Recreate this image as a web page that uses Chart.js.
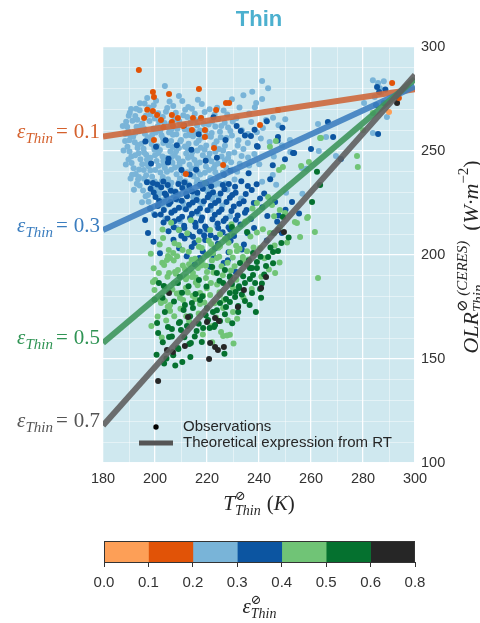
<!DOCTYPE html>
<html>
<head>
<meta charset="utf-8">
<script src="https://cdn.jsdelivr.net/npm/chart.js@4"></script>
<style>
  body { margin: 0; background: #fff; }
  #wrap { position: relative; width: 480px; height: 623px; }
  #chart { position: absolute; left: 0; top: 0; }
  #cbar { position: absolute; left: 0; top: 530px; }
</style>
</head>
<body>
<div id="wrap">
  <canvas id="chart" width="480" height="530"></canvas>
  <canvas id="cbar" width="480" height="93"></canvas>
</div>
<script>
//-------------------- DATA BLOCK --------------------
// observations, [T (K), OLR (W m-2)], grouped by emissivity bin
const lightOrange = [[290.0,268.8]];

const darkOrange = [
  [193.8,288.9],[199.2,278.4],[199.6,276.0],[205.4,277.4],[216.9,279.8],[223.5,269.7],[227.3,273.1],[228.5,273.1],
  [195.8,265.9],[199.2,269.2],[200.8,267.3],[202.3,264.9],[206.5,267.3],[206.5,263.9],[206.9,262.0],[208.8,265.9],
  [214.6,265.9],[217.7,265.9],[210.8,262.0],[199.6,255.3],[214.2,260.1],[219.2,256.7],[219.2,260.1],[222.7,251.4],
  [211.9,238.9],[226.2,243.3],[240.4,262.5],[247.3,269.7],[291.2,282.7],[293.8,275.5],[197.0,269.8],[203.2,261.4]
];

const lightBlue = [
  [203.8,281.3],[209.2,276.4],[194.2,273.0],[197.0,275.5],[190.3,268.4],[199.5,272.0],[205.6,273.8],[212.8,271.2],
  [216.5,274.6],[221.0,270.1],[234.0,276.8],[241.2,283.6],[243.5,280.2],[226.4,269.5],[231.3,265.8],[236.2,268.0],
  [247.5,262.4],[250.1,265.3],[187.6,262.0],[238.9,273.1],[241.2,275.0],[242.7,264.9],[245.4,266.0],[262.7,263.0],
  [265.8,256.7],[263.0,250.0],[251.9,255.3],[235.8,258.2],[241.5,261.0],[239.2,259.0],
  [188.9,264.1],[192.4,266.8],[195.1,263.2],[198.3,267.5],[201.6,264.0],[204.2,268.9],[207.5,265.1],[210.9,267.2],
  [213.7,263.8],[217.8,266.0],[220.6,262.7],[224.3,265.4],[228.1,261.3],
  [189.7,259.4],[192.9,261.6],[196.1,258.3],[199.4,260.8],[202.5,257.6],[205.3,261.1],[208.2,258.0],[211.4,260.5],
  [214.6,257.1],[217.3,259.9],[221.5,256.8],[225.0,259.2],[229.6,257.5],[233.4,260.0],
  [188.5,254.8],[191.6,256.9],[194.8,253.5],[197.7,255.8],[200.9,252.4],[203.6,255.1],[206.8,251.9],[209.7,254.6],
  [212.5,251.2],[215.9,253.8],[219.1,250.6],[222.8,253.0],[226.2,250.2],[231.8,252.6],[244.1,254.3],
  [190.2,249.7],[193.3,251.5],[196.6,248.2],[199.8,250.6],[202.9,247.3],[205.9,249.8],[208.9,246.5],[212.0,248.8],
  [215.2,245.7],[218.4,248.0],[221.7,245.1],[225.6,247.4],[229.3,244.6],[235.8,246.9],[252.0,249.5],
  [191.0,244.2],[194.4,246.0],[197.5,242.7],[200.6,245.2],[203.8,241.8],[206.7,244.3],[210.1,241.1],[213.3,243.4],
  [216.4,240.2],[219.6,242.6],[223.2,239.8],[227.4,242.0],[240.1,243.6],[258.3,241.5],
  [192.6,239.0],[195.7,240.9],[198.9,237.6],[202.1,239.7],[205.0,236.4],[208.3,238.8],[211.6,235.5],[214.8,237.9],
  [217.9,234.7],[221.3,237.0],[224.8,234.2],[230.6,236.3],
  [194.1,233.4],[197.3,235.2],[200.4,231.9],[204.5,234.0],[207.8,230.7],[211.9,233.2],[215.1,229.8],[219.0,232.1],
  [222.6,229.0],[227.9,231.4],[246.6,233.8],
  [196.4,228.2],[200.1,229.9],[203.5,226.5],[207.2,228.6],[210.8,225.3],[214.7,227.8],[218.3,224.6],[222.0,226.9],
  [225.9,223.8],[233.1,227.2],
  [198.6,222.6],[202.8,224.0],[206.4,220.8],[211.1,222.7],[216.6,219.9],[221.4,221.8],[228.9,218.6],
  [204.0,217.4],[209.6,216.2],[215.8,215.0],[223.7,214.1],[208.3,213.0],[219.2,211.5],
  [190.8,270.2],[194.1,269.6],[197.6,270.9],[201.2,268.1],[204.7,270.7],[208.0,268.4],[211.6,269.8],[215.3,267.9],
  [219.1,268.8],[222.9,267.4],
  [191.3,264.6],[194.6,262.1],[197.9,264.4],[201.0,261.8],[203.7,263.5],[206.4,260.4],[209.8,262.9],[212.9,260.0],
  [216.2,262.3],[219.5,259.7],[223.2,261.8],[226.8,263.6],
  [190.5,257.4],[193.9,259.5],[197.2,256.6],[200.3,258.9],[203.1,256.0],[206.9,257.8],[210.0,255.3],[213.4,257.7],
  [216.8,255.0],[220.1,257.2],[223.7,254.7],[227.5,256.2],
  [189.4,252.0],[192.2,254.2],[195.6,251.1],[198.7,253.4],[201.9,250.5],[205.2,252.8],[208.1,249.9],[211.5,252.2],
  [214.3,249.4],[217.6,251.6],[221.0,248.8],[224.6,251.0],[228.4,248.5],
  [190.9,247.4],[193.7,248.9],[196.9,245.8],[200.0,248.0],[203.2,245.2],[206.5,247.1],[209.5,244.6],[212.7,246.8],
  [216.0,243.9],[219.8,246.2],[223.1,243.3],[226.9,245.6],
  [191.8,241.7],[195.1,243.6],[198.2,240.6],[201.4,242.9],[204.6,240.0],[207.7,242.1],[211.0,239.3],[214.1,241.6],
  [217.4,238.7],[220.8,240.9],[224.3,238.0],
  [193.5,236.4],[196.6,238.3],[199.9,235.3],[203.0,237.5],[206.3,234.7],[209.6,236.8],[212.9,233.9],[216.2,236.2],
  [219.7,233.4],[223.4,235.6],
  [195.4,231.0],[198.8,232.9],[202.0,229.8],[205.6,232.2],[209.0,229.2],[212.6,231.4],[216.1,228.6],[220.2,230.6],
  [224.5,227.7],
  [197.5,225.6],[201.4,227.2],[205.0,224.3],[208.9,226.5],[212.9,223.6],[217.2,225.7],[221.3,222.9],
  [189.9,266.9],[193.2,265.0],[196.5,267.0],[199.9,265.6],[203.0,266.4],[206.0,263.2],[209.3,264.4],[212.4,266.3],
  [215.6,264.9],[218.7,263.0],[222.0,264.2],[225.5,262.0],[229.9,264.2],
  [189.3,261.6],[192.5,258.8],[195.7,260.9],[198.9,257.7],[202.0,259.6],[205.4,258.9],[208.6,260.7],[211.9,257.4],
  [215.0,259.4],[218.1,256.5],[221.8,258.6],[225.3,256.6],[229.0,259.6],[232.1,255.2],
  [190.1,255.2],[193.4,252.9],[196.6,255.0],[199.7,252.1],[203.2,253.8],[206.2,254.8],[209.2,251.4],[212.9,253.5],
  [216.3,250.3],[219.7,252.7],[223.2,249.6],[226.9,252.5],[230.5,249.3],[234.0,251.0],
  [189.8,245.9],[192.4,248.0],[195.8,249.3],[198.2,246.7],[201.3,249.0],[204.5,246.6],[207.6,248.1],[210.7,245.0],
  [214.0,247.4],[217.2,244.5],[220.5,246.7],[224.2,244.0],[228.1,246.6],[232.6,243.9],
  [191.2,238.6],[193.9,241.1],[197.0,243.8],[200.1,240.9],[203.4,243.3],[206.2,241.0],[209.4,243.0],[212.4,239.8],
  [215.9,242.3],[219.2,239.5],[222.6,241.7],[226.1,239.5],[230.0,241.0],
  [193.0,234.2],[195.8,236.7],[199.0,233.0],[202.6,235.6],[205.9,232.7],[209.2,235.0],[212.5,231.9],[216.0,234.4],
  [219.5,231.6],[223.1,233.8],[227.0,234.4],
  [192.8,270.3],[196.0,272.8],[200.4,274.2],[207.0,271.6],[210.5,274.0],[214.2,270.3],[218.0,272.6],[223.9,270.8],
  [227.8,267.5],[232.5,270.9],[237.0,264.0],[238.4,271.0],
  [188.6,258.2],[187.9,250.3],[188.8,243.5],[190.6,236.8],[233.3,247.6],[236.2,243.0],[235.7,253.8],[238.2,248.6],
  [240.7,256.0],[231.6,240.0],[193.8,237.5],[197.3,228.8],[191.9,231.4],[195.0,225.4],[199.6,219.8],[245.7,247.3],
  [248.9,252.6],[237.4,278.5],[229.6,274.9],
  [256.5,241.8],[269.6,247.6],[256.7,229.5],[250.4,229.9],[241.2,235.2],[245.3,238.5],
  [283.8,284.0],[285.8,282.7],[286.9,277.9],[286.5,280.2],[289.2,266.3],[283.8,258.6],[280.4,273.1],[284.5,276.0],[288.0,283.5]
];

const darkBlue = [
  [211.2,262.4],[216.8,258.1],[222.5,266.2],[227.1,255.3],[231.4,262.0],[234.6,257.4],[238.3,260.2],[200.4,252.1],
  [205.2,246.3],[196.3,254.6],[243.0,264.3],[247.2,255.0],[249.0,261.2],[253.1,249.0],[239.5,252.0],[266.5,264.0],
  [268.5,256.7],[260.0,251.0],[250.0,246.0],[245.3,243.1],[271.5,246.2],[285.4,280.8],[286.2,278.4],[285.0,272.1],
  [285.8,258.2],[288.6,279.6],[204.1,255.2],[214.0,250.6],[219.5,245.3],[210.2,240.9],[233.0,259.6],[236.9,257.2],
  [247.3,256.7],[239.2,252.4],[253.5,249.0],[205.0,244.5],[215.8,241.0],[223.8,246.8],[229.0,240.5],[208.4,252.8],
  [198.5,244.0],[236.0,239.3],[226.5,238.6],[213.4,238.7],
  [196.9,235.0],[199.2,234.6],[196.2,216.8],[200.0,219.2],[198.1,222.4],
  [203.2,235.3],[211.3,234.9],[219.6,234.5],[228.4,234.1],[233.2,235.5],[239.1,234.0],[244.3,236.4],
  [198.3,231.8],[202.4,232.6],[206.1,230.9],[210.5,232.2],[214.3,230.5],[218.4,231.9],[222.3,230.2],[226.7,231.6],
  [231.0,229.9],[237.2,231.3],[242.0,229.6],
  [200.2,227.9],[204.3,228.7],[208.1,226.8],[212.3,228.3],[216.0,226.4],[220.3,227.8],[224.4,226.1],[228.8,227.5],
  [234.1,225.8],[240.4,227.2],[246.2,225.5],
  [201.1,223.6],[205.4,224.5],[209.2,222.7],[213.1,224.1],[217.3,222.3],[221.5,223.7],[225.6,221.9],[230.3,223.3],
  [235.2,221.6],[241.3,223.0],[250.2,221.8],
  [202.2,219.5],[206.3,220.3],[210.4,218.4],[214.2,219.8],[218.1,218.0],[223.0,219.4],[227.2,217.6],[231.8,219.0],
  [236.9,217.3],[243.2,218.7],[255.4,220.0],
  [203.3,215.6],[207.4,216.2],[211.2,214.1],[215.4,215.5],[219.3,213.7],[224.1,215.1],[228.3,213.3],[232.9,214.7],
  [238.1,213.0],[247.0,216.0],
  [205.2,211.4],[209.3,212.0],[213.1,209.9],[217.2,211.3],[221.4,209.5],[226.0,210.9],[230.4,209.1],[235.6,210.5],[248.8,210.6],
  [207.1,207.3],[211.4,207.9],[215.2,205.8],[219.3,207.2],[224.2,205.4],[229.1,206.8],[234.2,205.0],[243.0,207.0],
  [209.3,203.2],[214.1,203.8],[218.4,201.7],[223.1,203.1],[228.3,201.3],[233.4,202.6],
  [212.2,199.4],[217.1,198.5],[222.3,199.8],[228.0,197.5],[215.3,195.6],[221.2,194.4],[226.4,196.1],[231.0,192.0],
  [252.7,225.5],[247.6,219.0],[197.3,210.6],[199.4,206.4],[201.9,200.8],
  [200.9,233.9],[204.9,233.6],[209.0,234.1],[213.2,233.3],[217.4,233.8],[221.6,233.0],[226.1,233.6],[230.8,232.8],[235.7,233.2],
  [199.5,230.1],[203.8,229.6],[207.9,230.3],[212.0,229.4],[216.3,229.9],[220.9,229.1],[225.2,229.6],[229.7,228.8],[234.9,229.3],
  [201.6,226.0],[206.0,225.5],[210.3,226.1],[214.5,225.2],[218.8,225.8],[223.1,225.0],[227.5,225.5],[232.4,224.6],[238.0,225.0],
  [203.4,221.6],[207.6,221.4],[211.9,222.0],[216.1,220.9],[220.2,221.5],[224.6,220.7],[229.4,221.2],[234.6,220.3],
  [204.8,217.6],[209.2,217.3],[213.5,217.8],[217.7,216.6],[222.1,217.2],[226.4,216.4],[231.1,216.9],
  [207.2,213.4],[211.3,213.0],[215.6,213.6],[219.9,212.5],[224.3,213.0],[228.9,212.2],
  [210.1,209.3],[214.6,208.8],[218.9,209.4],[223.4,208.3],[227.8,208.9]
];

const lightGreen = [
  [200.0,188.0],[205.0,199.5],[207.0,201.0],[208.5,199.4],[205.4,191.3],[207.7,191.8],[211.5,193.3],[214.6,191.3],
  [216.5,193.7],[218.0,196.6],[220.0,200.0],[222.3,201.0],[223.8,198.6],[220.0,191.8],[222.5,191.6],[214.2,189.4],
  [215.7,189.2],[212.2,189.5],[209.6,181.7],[208.4,181.5],[210.8,178.4],[217.3,181.7],[218.5,180.4],[221.2,180.8],
  [225.0,180.8],[230.0,184.1],[226.2,174.5],[230.0,172.6],[205.4,175.0],[205.8,173.1],[202.3,176.9],[203.8,177.9],
  [226.2,161.1],[228.8,161.6],[225.0,204.2],[228.8,201.4],[231.5,201.9],[233.8,199.0],[235.4,201.8],[235.4,195.6],
  [246.2,191.3],[262.7,189.0],[201.5,191.3],[199.2,187.0],[204.6,197.6],
  [254.6,215.4],[255.8,208.7],[261.5,211.0],[258.8,218.3],[248.0,213.5],[250.0,220.2],[245.8,218.6],[244.2,210.6],
  [241.5,212.4],[239.2,210.8],[240.4,203.4],[233.8,197.6],[232.7,191.5],[229.9,198.8],[227.9,196.3],[224.7,199.2],
  [220.8,200.3],[218.0,203.4],[208.8,192.8],[205.8,198.6],[200.1,187.8],[209.6,179.3],[205.8,176.0],[201.9,178.4],
  [204.9,175.1],[214.5,180.4],[217.3,176.4],[225.4,163.0],[227.7,161.3],[221.8,165.8],[221.5,186.5],
  [247.7,240.9],[249.2,242.3],[256.2,242.8],[259.2,244.7],[243.5,227.9],[245.0,224.0],[239.2,225.0],[258.5,217.8],
  [253.8,215.9],[248.0,221.6],[219.2,234.6],[209.2,212.0],[221.2,212.0],[225.0,210.0],
  [263.8,256.3],[278.0,242.3],[277.7,247.6],[283.8,268.3],[280.0,260.0],[246.5,254.8],[263.5,256.2],[244.2,252.0],
  [203.1,208.2],[207.5,205.6],[212.4,210.4],[216.8,207.1],[221.6,205.3],[226.9,207.8],[231.2,204.5],[236.7,208.9],
  [210.6,202.4],[215.4,198.2],[213.1,195.6],[219.6,194.8],[226.1,190.3],[231.3,188.1],[203.7,184.9],[207.2,186.4],
  [211.9,184.2],[216.4,185.5],[199.5,193.6],[202.8,196.3],[237.9,203.6],[242.1,198.4],[229.4,214.8],[234.7,216.1],
  [237.5,222.4],[213.8,216.7],[206.2,215.5],[202.9,212.3],
  [201.8,205.1],[205.3,202.4],[209.1,204.8],[213.0,201.6],[216.9,204.0],[220.7,206.9],[224.4,203.5],[228.3,205.9],
  [232.5,203.0],[203.5,195.2],[207.2,197.4],[210.7,194.9],[214.1,197.7],[217.8,195.0],[221.9,197.3],[225.6,194.6],
  [229.2,192.6],[204.8,189.6],[208.0,191.0],[211.9,188.3],[215.7,186.8],[219.6,188.9],[223.9,185.8],
  [206.7,183.4],[212.6,182.0],[219.9,184.0],[224.8,182.1],[207.4,170.5],[216.8,171.9],[223.5,170.0],[213.1,168.3],
  [198.4,200.6],[199.8,183.2],[201.0,170.4],[198.6,165.9],[202.6,160.3],[204.3,168.5],[209.8,174.2],[212.0,170.5],
  [215.5,178.8],[219.0,177.2],[222.9,176.8],[226.5,178.2],[228.0,168.6],[231.6,169.4],[234.0,179.6],[237.2,183.6],
  [240.9,189.5],[243.8,193.0],[247.9,196.4],[250.8,206.0],[246.0,204.6],[236.0,197.8],[230.6,194.6],[218.4,161.8],
  [222.0,158.0],[230.2,157.5]
];

const darkGreen = [
  [201.5,186.5],[208.8,186.5],[209.6,189.4],[203.8,172.6],[200.8,167.3],[201.2,162.5],[205.0,165.4],[206.5,164.4],
  [205.4,160.6],[209.6,167.8],[210.0,164.0],[212.3,165.9],[216.0,163.5],[218.5,164.9],[221.0,164.9],[222.7,165.4],
  [225.0,168.3],[211.0,173.6],[211.5,176.0],[214.2,176.9],[214.6,174.5],[217.3,178.4],[220.0,174.5],[222.3,172.6],
  [225.0,176.9],[227.3,178.8],[228.8,177.4],[230.8,179.8],[232.0,175.5],[234.6,177.9],[228.8,181.7],[231.0,182.2],
  [232.3,185.0],[234.6,186.5],[236.5,188.5],[237.7,190.4],[239.2,193.7],[242.7,194.7],[243.5,199.0],[247.3,201.9],
  [238.5,186.5],[240.4,183.6],[241.1,186.3],[237.3,181.7],[238.8,172.6],[232.0,172.6],[228.8,189.4],[226.2,186.5],
  [223.8,191.3],[222.0,194.2],[226.9,192.8],[232.7,196.2],[236.5,193.7],[237.7,201.0],[213.8,157.7],[208.8,155.3],
  [209.0,154.8],[213.2,157.2],
  [260.4,225.5],[245.4,201.4],[239.2,196.6],[245.4,196.0],[237.3,193.7],[232.3,184.1],[228.8,189.8],[218.2,180.2],
  [215.6,181.2],[203.4,185.1],[206.5,160.8],[209.2,167.3],[220.4,168.8],[223.1,166.4],[227.3,175.0],
  [262.3,240.0],[263.5,233.7],[249.2,218.3],[229.6,213.5],[235.4,211.0],[245.8,210.6],[288.0,273.1],
  [199.8,178.5],[202.9,179.5],[204.4,150.2],[200.6,152.0],[207.8,146.9],[203.5,147.8],
  [212.9,185.0],[216.9,188.0],[219.8,184.8],[224.8,187.6],[229.6,186.0],[233.9,189.8],[236.1,197.4],[240.6,199.2],
  [244.4,203.6],[248.6,205.8],[251.4,208.4],[207.3,177.6],[210.4,181.8],[213.5,170.6],[216.8,167.0],[219.5,171.0],
  [223.8,173.4],[226.9,171.5],[229.7,167.2],[233.4,181.0],[236.4,176.0],[240.8,179.5],[242.0,190.6],[203.0,158.0],
  [207.0,151.8],[211.3,160.5],[215.3,160.8],[218.0,158.2],[213.6,151.0],[210.5,148.6],[226.7,152.5],[229.2,186.9]
];

const black = [
  [205.4,181.7],[212.7,170.2],[220.0,167.8],[223.1,169.7],[224.6,168.3],[234.2,183.2],[242.7,189.4],[240.8,184.1],
  [204.6,154.3],[206.9,153.4],[211.5,156.3],[221.2,157.7],[223.1,155.8],[224.2,154.3],[226.5,155.8],[220.8,150.0],
  [231.9,175.0],[201.2,139.4],[249.6,211.1],[247.3,212.0],[293.1,273.1]
];

// theoretical expression from RT, OLR at T = 180 K and T = 300 K
const lineT = [180, 300];
const olrEps01 = [256.9, 279.7];
const olrEps03 = [212.0, 281.0];
const olrEps05 = [157.7, 284.6];
const olrEps07 = [118.0, 286.5];
const epsLabels = ['0.1', '0.3', '0.5', '0.7'];

// colour bar
const cbTicks = ['0.0', '0.1', '0.2', '0.3', '0.4', '0.5', '0.6', '0.8'];
const cbWidths = [1, 1, 1, 1, 1, 1, 1];
const cbColors = ['#fd9f57', '#e15307', '#79b4d8', '#0c55a1', '#70c476', '#05712f', '#262626'];

//-------------------- HELPERS --------------------
const SERIF = '"Liberation Serif", "DejaVu Serif", serif';
const SANS = '"Liberation Sans", Arial, sans-serif';
const bgColor = '#cfe8ef';
const lineColors = ['rgba(205,104,60,0.9)', 'rgba(62,128,192,0.9)', 'rgba(62,150,92,0.9)', 'rgba(95,95,95,0.9)'];
const labelColors = ['#d4602c', '#3a7dbf', '#2f9454', '#555555'];

const toXY = pts => pts.map(p => ({ x: p[0], y: p[1] }));
const lineXY = olr => lineT.map((t, i) => ({ x: t, y: olr[i] }));

// draw text made of pieces (normal, sub, sup); keep:true = next piece starts at same x
function richWidth(ctx, parts) {
  let w = 0, pend = 0;
  for (const p of parts) {
    ctx.font = p.f;
    const pw = ctx.measureText(p.t).width;
    if (p.keep) { pend = pw; } else { w += (p.pre || 0) + Math.max(pw, pend); pend = 0; }
  }
  return w;
}
function drawRich(ctx, parts, x, y) {
  let cx = x, pend = 0;
  for (const p of parts) {
    ctx.font = p.f;
    const pw = ctx.measureText(p.t).width;
    ctx.fillText(p.t, cx + (p.pre || 0), y + (p.dy || 0));
    if (p.keep) { pend = pw; } else { cx += (p.pre || 0) + Math.max(pw, pend); pend = 0; }
  }
}

//-------------------- MAIN CHART --------------------
const pointSets = [lightBlue, darkBlue, lightGreen, darkGreen, black, lightOrange, darkOrange];
const pointColors = [cbColors[2], cbColors[3], cbColors[4], cbColors[5], cbColors[6], cbColors[0], cbColors[1]];

const datasets = [];
[olrEps01, olrEps03, olrEps05, olrEps07].forEach((olr, i) => {
  datasets.push({
    type: 'line',
    data: lineXY(olr),
    borderColor: lineColors[i],
    borderWidth: 6,
    pointRadius: 0,
    borderCapStyle: 'butt',
    order: -1 - i
  });
});
pointSets.forEach((pts, i) => {
  datasets.push({
    type: 'scatter',
    data: toXY(pts),
    backgroundColor: pointColors[i],
    borderWidth: 0,
    pointRadius: 3,
    order: 10 - i
  });
});

const gridColor = c => (c.tick && c.tick.value % (c.scale.axis === 'x' ? 20 : 50) === 0)
  ? 'rgba(255,255,255,0.95)' : 'rgba(255,255,255,0.55)';
const gridWidth = c => (c.tick && c.tick.value % (c.scale.axis === 'x' ? 20 : 50) === 0) ? 1.3 : 0.8;

const decor = {
  id: 'decor',
  beforeDraw(chart) {
    const { ctx, chartArea: a } = chart;
    ctx.save();
    ctx.fillStyle = bgColor;
    ctx.fillRect(a.left, a.top, a.right - a.left, a.bottom - a.top);
    ctx.restore();
  },
  afterDraw(chart) {
    const { ctx, chartArea: a, scales } = chart;
    const cx = (a.left + a.right) / 2;
    ctx.save();
    ctx.textBaseline = 'alphabetic';
    ctx.textAlign = 'left';

    // title
    ctx.fillStyle = '#4cb0cf';
    ctx.font = 'bold 22px ' + SANS;
    ctx.textAlign = 'center';
    ctx.fillText('Thin', cx, 26);
    ctx.textAlign = 'left';

    // labels of the theoretical lines, at their left ends
    [olrEps01, olrEps03, olrEps05, olrEps07].forEach((olr, i) => {
      const parts = [
        { t: 'ε', f: 'italic 21px ' + SERIF },
        { t: 'Thin', f: 'italic 15px ' + SERIF, dy: 5 },
        { t: '=', f: '21px ' + SERIF, pre: 3 },
        { t: epsLabels[i], f: '21px ' + SERIF, pre: 6 }
      ];
      const y = scales.y.getPixelForValue(olr[0]) + 1.5;
      ctx.fillStyle = labelColors[i];
      drawRich(ctx, parts, a.left - 3 - richWidth(ctx, parts), y);
    });

    // x axis title
    ctx.fillStyle = '#262626';
    const xt = [
      { t: 'T', f: 'italic 21px ' + SERIF },
      { t: '⊘', f: '13px ' + SERIF, dy: -10, keep: true },
      { t: 'Thin', f: 'italic 14px ' + SERIF, dy: 5 },
      { t: '(', f: '21px ' + SERIF, pre: 6 },
      { t: 'K', f: 'italic 21px ' + SERIF },
      { t: ')', f: '21px ' + SERIF }
    ];
    drawRich(ctx, xt, cx - richWidth(ctx, xt) / 2, 510);

    // y axis title (right side, rotated)
    const yt = [
      { t: 'OLR', f: 'italic 22px ' + SERIF },
      { t: '⊘ (CERES)', f: 'italic 15px ' + SERIF, dy: -11, keep: true },
      { t: 'Thin', f: 'italic 15px ' + SERIF, dy: 5 },
      { t: '(', f: '22px ' + SERIF, pre: 10 },
      { t: 'W·m', f: 'italic 22px ' + SERIF },
      { t: '−2', f: '15px ' + SERIF, dy: -10 },
      { t: ')', f: '22px ' + SERIF }
    ];
    ctx.translate(478, (a.top + a.bottom) / 2 + 2);
    ctx.rotate(-Math.PI / 2);
    drawRich(ctx, yt, -richWidth(ctx, yt) / 2, 0);
    ctx.setTransform(1, 0, 0, 1, 0, 0);

    // legend
    const lx = a.left + 36, ly = a.bottom - 36;
    ctx.fillStyle = '#000';
    ctx.beginPath();
    ctx.arc(lx + 17, ly, 2.7, 0, Math.PI * 2);
    ctx.fill();
    ctx.strokeStyle = '#555';
    ctx.lineWidth = 5;
    ctx.beginPath();
    ctx.moveTo(lx, ly + 16);
    ctx.lineTo(lx + 34, ly + 16);
    ctx.stroke();
    ctx.fillStyle = '#262626';
    ctx.font = '15px ' + SANS;
    ctx.textBaseline = 'middle';
    ctx.fillText('Observations', lx + 44, ly);
    ctx.fillText('Theoretical expression from RT', lx + 44, ly + 16);
    ctx.restore();
  }
};

new Chart(document.getElementById('chart'), {
  type: 'scatter',
  data: { datasets },
  options: {
    responsive: false,
    animation: false,
    devicePixelRatio: 1,
    layout: { padding: { left: 103, top: 47, right: 0, bottom: 0 } },
    plugins: { legend: { display: false }, tooltip: { enabled: false }, title: { display: false } },
    scales: {
      x: {
        type: 'linear', min: 180, max: 300,
        ticks: {
          stepSize: 10, autoSkip: false, maxRotation: 0, padding: 7,
          callback: v => (v % 20 === 0 ? v : ''),
          color: '#333', font: { family: SANS, size: 14.5 }
        },
        grid: { color: gridColor, lineWidth: gridWidth, drawTicks: false },
        border: { display: false },
        afterFit: s => { s.height = 67; }
      },
      y: {
        type: 'linear', position: 'right', min: 100, max: 300,
        ticks: {
          stepSize: 10, autoSkip: false, padding: 6,
          callback: v => (v % 50 === 0 ? v : ''),
          color: '#333', font: { family: SANS, size: 14.5 }
        },
        grid: { color: gridColor, lineWidth: gridWidth, drawTicks: false },
        border: { display: false },
        afterFit: s => { s.width = 65; }
      }
    }
  },
  plugins: [decor]
});

//-------------------- COLOUR BAR --------------------
const cbarDecor = {
  id: 'cbarDecor',
  afterDraw(chart) {
    const { ctx, chartArea: a } = chart;
    ctx.save();
    ctx.strokeStyle = '#333';
    ctx.lineWidth = 1;
    ctx.strokeRect(a.left + 0.5, a.top + 0.5, a.right - a.left - 1, a.bottom - a.top);
    ctx.fillStyle = '#262626';
    const parts = [
      { t: 'ε', f: 'italic 21px ' + SERIF },
      { t: '⊘', f: '13px ' + SERIF, dy: -9, keep: true },
      { t: 'Thin', f: 'italic 14px ' + SERIF, dy: 5 }
    ];
    drawRich(ctx, parts, (a.left + a.right) / 2 - richWidth(ctx, parts) / 2, 83);
    ctx.restore();
  }
};

new Chart(document.getElementById('cbar'), {
  type: 'bar',
  data: {
    labels: [''],
    datasets: cbColors.map((c, i) => ({
      data: [cbWidths[i]],
      backgroundColor: c,
      borderWidth: 0,
      barPercentage: 1,
      categoryPercentage: 1
    }))
  },
  options: {
    indexAxis: 'y',
    responsive: false,
    animation: false,
    devicePixelRatio: 1,
    layout: { padding: { left: 104, right: 65, top: 11, bottom: 0 } },
    plugins: { legend: { display: false }, tooltip: { enabled: false } },
    scales: {
      x: {
        stacked: true, min: 0, max: 7,
        ticks: {
          stepSize: 1, autoSkip: false, maxRotation: 0, padding: 7,
          callback: v => cbTicks[v],
          color: '#333', font: { family: SANS, size: 15 }
        },
        grid: { drawOnChartArea: false, tickLength: 5, color: '#333', lineWidth: 1 },
        border: { display: false },
        afterFit: s => { s.height = 61; }
      },
      y: { stacked: true, display: false }
    }
  },
  plugins: [cbarDecor]
});
</script>
</body>
</html>
